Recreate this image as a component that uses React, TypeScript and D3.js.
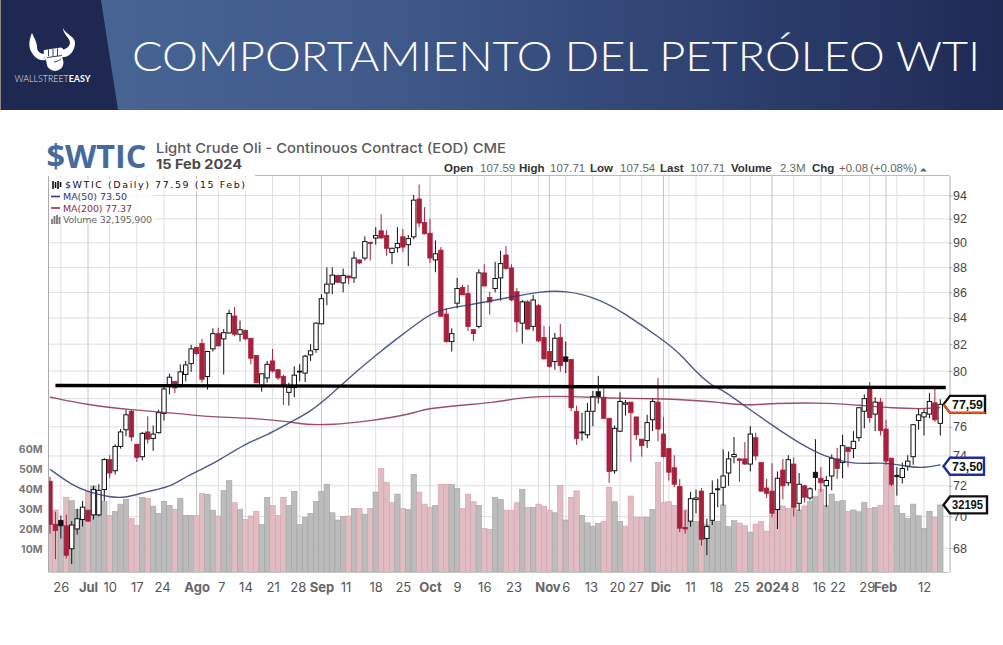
import * as d3 from 'd3';
import * as React from 'react';
import { useEffect, useRef } from 'react';

// daily candles, 16 Jun 2023 - 15 Feb 2024
const opens = [
  72.3, 69.5, 69.75, 69.4, 67.95, 69.2, 69.8, 70.4, 70.1, 70.1,
  71.75, 73.75, 73, 74.65, 75.8, 77.1, 74.8, 73.95, 75.65, 75.2,
  75.6, 76.95, 78.97, 79.25, 79, 79.75, 80.55, 81.75, 82.05, 79.6,
  81.65, 82.8, 82.4, 82.85, 84.15, 82.75, 83.05, 82.45, 81.15, 78.9,
  79.5, 80.75, 80.1, 79.6, 78.45, 78.8, 80, 79.85, 81.2, 81.6,
  83.55, 85.95, 86.66, 87.35, 86.75, 87.3, 87.15, 88.6, 88.75, 90.05,
  90.4, 91, 90.6, 89.2, 89.6, 90.5, 89.85, 90.5, 93.7, 91.7,
  90.8, 88.6, 89.4, 84.3, 82.2, 85.15, 86.4, 85.9, 83.1, 83.35,
  87.55, 85.6, 86.3, 87.15, 89, 87.95, 86.05, 83.6, 85.25, 83.35,
  84.95, 82.5, 81.45, 80.7, 82.5, 81.05, 80.85, 77.1, 75.65, 75.45,
  77.1, 78.5, 78.1, 76.6, 73, 75.7, 77.6, 77.75, 76.7, 75.15,
  75.05, 76.5, 77.75, 75.5, 74.5, 73.2, 71.95, 69.3, 69.7, 71.1,
  71.65, 68.6, 69.75, 71.8, 71.9, 72.85, 73.95, 73.8, 73.8, 73.45,
  75.25, 73.55, 71.85, 71.65, 70.45, 73.05, 72.2, 73.45, 70.85, 72,
  71.2, 72.9, 72.5, 72, 72.65, 73.8, 73.55, 74.6, 74.5, 75.25,
  77.1, 78.85, 76.9, 77.75, 75.85, 73.85, 72.7, 72.55, 73.3, 73.95,
  76.45, 76.7, 76.9, 77.7, 76.25,
];
const highs = [
  72.6, 70.3, 70.05, 70.1, 69.7, 70.5, 71, 70.45, 72, 72.1,
  73.85, 74.05, 74.8, 75.85, 77.2, 77.2, 74.8, 75.65, 76.75, 76.1,
  77.2, 79, 79.8, 79.25, 80.5, 80.75, 81.95, 81.8, 82.4, 81.5,
  83.2, 83.25, 83.15, 84.65, 84.85, 83.8, 83.1, 82.45, 81.15, 79.8,
  80.75, 81.65, 80.15, 79.75, 79.15, 80.35, 80.5, 81.2, 82, 83.65,
  85.85, 88, 88, 87.4, 87.9, 87.35, 89.3, 88.65, 90.55, 90.05,
  91.3, 92.4, 91.05, 89.6, 91.3, 91.15, 90.65, 94.05, 94.95, 93,
  92, 90.2, 89.65, 84.75, 83.2, 87.15, 86.6, 86.6, 83.1, 87.85,
  88.25, 86.05, 88.45, 89.35, 89.75, 88.25, 86.35, 85.4, 85.4, 85.8,
  85.1, 83.4, 83.35, 82.85, 83.55, 82.2, 80.85, 77.5, 77, 77.7,
  78.55, 79.65, 78.75, 76.65, 76.1, 78.45, 77.9, 77.75, 76.7, 75.15,
  76.85, 78, 79.5, 76.7, 74.5, 74.05, 72.45, 70.4, 71.6, 71.75,
  71.85, 69.85, 72.35, 72.45, 74.45, 74.3, 75.3, 73.85, 74.95, 76.05,
  75.6, 73.55, 72.45, 73.5, 72.95, 73.8, 74.05, 73.9, 72.85, 72.05,
  71.9, 75.15, 73.25, 72.65, 74.1, 74.55, 75.45, 74.6, 75.7, 77.4,
  78.3, 79.2, 78.1, 78.05, 76.5, 73.85, 73.25, 73.55, 74.05, 76.2,
  77.3, 77.25, 78.4, 78.8, 77.95,
];
const lows = [
  68.9, 67.3, 68.6, 67.35, 67, 68.85, 69.35, 69.65, 69.8, 70,
  71, 72.5, 72.75, 74.5, 75.35, 75, 73.6, 73.7, 74.85, 74.35,
  75.55, 76.45, 78.3, 78.4, 78.8, 79.25, 79.94, 81.2, 79.15, 78.65,
  81.45, 81.85, 79.75, 82.8, 82.6, 82.2, 82.3, 80.5, 79.1, 78.5,
  79.15, 79.9, 79.35, 77.55, 77.5, 78.1, 79.25, 79.2, 80.75, 81.35,
  83.5, 85, 85.85, 86.75, 86, 86.65, 86.75, 88.25, 88.55, 88.55,
  89.85, 90.35, 88.95, 88.25, 89.2, 89.25, 88.1, 90.3, 91.3, 90.7,
  88.35, 87.6, 84.1, 82.1, 81.45, 84.75, 85.8, 83, 82.25, 83.2,
  86.5, 84.25, 86, 85.35, 87.8, 85.3, 82.9, 82.05, 83.1, 83,
  82.15, 80.85, 80.25, 80.1, 79.95, 79.85, 77.1, 74.75, 75.05, 75.2,
  76.05, 77.65, 76.55, 72.2, 72.8, 75.65, 76.8, 73.6, 75.1, 73.95,
  74.55, 75.7, 75, 73.9, 72.35, 71.9, 69, 68.9, 69.35, 70.2,
  68.15, 67.55, 69.45, 70.6, 70.7, 72, 73.5, 72.25, 73.4, 72.95,
  73.7, 71.6, 71.2, 69.95, 69.2, 71.1, 72, 70, 70.35, 70.9,
  71.05, 71.7, 71.6, 70.6, 71.7, 72.45, 72.5, 73.25, 73.85, 75,
  75.9, 76.3, 75.7, 75.4, 73.4, 71.95, 71.35, 72.15, 73, 73.4,
  75.8, 75.4, 76.6, 76.35, 75.4,
];
const closes = [
  69.5, 69.1, 69.4, 67.55, 69.45, 69.85, 70.6, 69.7, 71.75, 71.7,
  73.75, 72.85, 74.65, 75.65, 76.85, 75.3, 73.9, 75.55, 75.15, 75.5,
  77, 78.7, 79.55, 78.77, 79.94, 80.45, 81.65, 81.3, 79.4, 81.45,
  82.8, 81.87, 82.87, 84.35, 82.75, 83.1, 82.4, 80.95, 79.15, 79.8,
  80.5, 80, 79.5, 79, 78.8, 79.7, 79.95, 81.1, 81.5, 83.6,
  85.5, 86.65, 87.37, 86.8, 87.35, 87.15, 88.75, 88.35, 90.1, 89.95,
  90.6, 90.4, 89.55, 89.55, 89.95, 89.65, 90.35, 93.6, 91.65, 90.75,
  88.75, 89.1, 84.13, 82.2, 82.8, 86.3, 85.8, 83.35, 82.8, 87.55,
  86.5, 85.25, 87.1, 88.3, 87.9, 85.4, 83.7, 85.25, 83.15, 85.4,
  82.25, 80.9, 80.35, 82.45, 80.4, 80.7, 77.35, 75.2, 75.6, 77.1,
  78.15, 78.15, 76.6, 72.95, 75.9, 77.8, 77.7, 77, 75.45, 74.7,
  76.3, 77.8, 75.85, 73.95, 72.9, 72.1, 69.25, 69.2, 71.15, 71.2,
  68.55, 69.35, 71.5, 71.75, 72.65, 73.8, 74.1, 73.7, 73.45, 75.5,
  74, 71.65, 71.5, 70.2, 72.5, 72, 73.75, 70.6, 72.1, 71.25,
  71.8, 72.55, 72.2, 72.35, 73.85, 73.15, 74.7, 74.3, 75, 77.35,
  78, 76.65, 77.75, 75.75, 73.65, 72.1, 72.6, 73.15, 73.65, 76.15,
  76.85, 77, 77.8, 76.5, 77.59,
];
// filled candles drawn black (close under open but above yesterday's close)
const blackDays = [2, 46, 95, 98, 101, 123, 141, 156];

// volume in millions
const volumes = [
  25, 29.7, 23, 36, 34.3, 30, 26.5, 39, 41.6, 39,
  34, 27, 29, 32.6, 35, 25.5, 22, 36, 35.5, 31.6,
  28, 34, 32, 30, 35.5, 27, 27, 27, 38, 37.5,
  29.6, 26.7, 39.3, 44.3, 33.3, 30, 25, 26.7, 29, 22.5,
  36, 32, 27, 36, 32, 39, 22.5, 26, 28, 34,
  39, 42.5, 28.3, 24.7, 26.3, 26.7, 30.5, 30.5, 27.6, 30.5,
  38.6, 50.3, 43.5, 33.3, 37.6, 30.5, 30, 47.4, 38.6, 32.6,
  31, 32, 42.5, 42.5, 42.4, 40.4, 30.5, 37.6, 33.8, 32,
  20.5, 20, 36, 35, 29.6, 29.6, 33.3, 40, 31, 31,
  32.6, 31.6, 29.6, 28.3, 42, 24.7, 36, 39.2, 27, 23.3,
  21.7, 23, 24, 41, 33.8, 24, 21.7, 36.6, 26, 26,
  26, 30, 53.3, 33.4, 33.9, 32, 41, 29.7, 23.9, 24,
  23, 22.3, 24, 24, 32.2, 21.4, 24.4, 23.2, 21.9, 18.7,
  22.7, 23.9, 19.2, 27.2, 30.5, 31.7, 30.5, 32.2, 29.7, 31.7,
  34.1, 36.3, 40, 32, 37.6, 33.8, 34.3, 29, 29.7, 28.8,
  33.3, 30.5, 31, 32.1, 53, 42, 32, 28, 25.5, 32.6,
  26.8, 20.5, 29, 26, 32.2,
];
// days whose volume bar is pink
const volumeDown = [
  0, 1, 3, 7, 11, 15, 16, 18, 23, 27, 28, 31, 34, 36, 37, 38, 41, 42, 43,
  55, 57, 59, 61, 62, 63, 65, 68, 69, 70, 72, 73, 76, 77, 78, 80, 81, 84, 85, 86, 88,
  90, 91, 92, 94, 96, 97, 102, 103, 106, 107, 108, 109, 112, 113, 114, 115, 116, 117,
  120, 127, 128, 130, 131, 132, 133, 134, 135, 136, 137, 139, 142, 147, 151, 153, 154, 155, 163,
];

const ma50Days = [0, 4, 7, 11, 14, 18, 22, 25, 29, 31, 36, 40, 44, 48, 52, 55, 60, 64, 68, 71, 77, 85, 90, 95, 101, 106, 113, 116, 119, 122, 124, 127, 133, 138, 143, 147, 150, 154, 158, 161, 164];
const ma50Values = [73.1, 72.05, 71.6, 71.24, 71.2, 71.65, 71.9, 72.6, 73.3, 73.67, 74.85, 75.42, 76.28, 77.06, 78.37, 79.48, 81.17, 82.45, 83.69, 84.6, 84.98, 85.63, 86.05, 86.16, 85.53, 84.33, 82.3, 81.32, 79.92, 78.9, 78.6, 77.75, 76.12, 74.87, 73.9, 73.53, 73.47, 73.56, 73.27, 73.18, 73.4];
const ma200Days = [0, 7, 15, 23, 29, 36, 44, 47, 52, 58, 63, 68, 69, 76, 82, 86, 90, 96, 103, 112, 118, 123, 128, 133, 144, 150, 155, 161, 164];
const ma200Values = [78.12, 77.54, 77.19, 76.98, 76.7, 76.65, 76.38, 76.15, 76.15, 76.38, 76.65, 77.07, 77.26, 77.54, 77.73, 78.03, 78.17, 78.17, 78.03, 78, 77.89, 77.75, 77.49, 77.68, 77.7, 77.49, 77.33, 77.26, 77.37];

const resistanceDays = [1, 165];
const resistanceValues = [78.95, 78.8];

const priceTicks = [68, 70, 72, 74, 76, 78, 80, 82, 84, 86, 88, 90, 92, 94];
const volumeTicks = [10, 20, 30, 40, 50, 60];
const dateTicks = [2, 7, 11, 16, 21, 27, 31, 36, 41, 46, 50, 55, 60, 65, 70, 75, 80, 85, 90, 92, 95, 100, 105, 109, 113, 114, 119, 124, 129, 133, 137, 142, 146, 151, 154, 156, 161];
const dateLabels = ['26', 'Jul', '10', '17', '24', 'Ago', '7', '14', '21', '28', 'Sep', '11', '18', '25', 'Oct', '9', '16', '23', '', 'Nov', '6', '13', '20', '27', 'Dic', '', '11', '18', '25', '2024', '8', '16', '22', '29', 'Feb', '', '12'];
const monthLabels = ['Jul', 'Ago', 'Sep', 'Oct', 'Nov', 'Dic', '2024', 'Feb'];

const headerText = [
  ['Open', '107.59', 444, 480], ['High', '107.71', 519, 550], ['Low', '107.54', 590, 620],
  ['Last', '107.71', 660, 690], ['Volume', '2.3M', 731, 780], ['Chg', '+0.08', 812, 839],
];

const RED = '#a8203c';
const NAVY = '#1f2850';
const SANS = "'Liberation Sans', Arial, sans-serif";
const WIDE = "Inter, 'Noto Sans', sans-serif";

export default function App() {
  const mountPoint = useRef<SVGSVGElement | null>(null);

  useEffect(() => {
    const svg = d3.select(mountPoint.current);
    svg.selectAll('*').remove();

    const left = 48.5, right = 949.5, top = 176, bottom = 572;
    const x = d3.scaleLinear().domain([0, opens.length - 1]).range([50, 940.3]);
    const y = d3.scaleLog().domain([68, 94]).range([548, 195.5]);
    const vy = d3.scaleLinear().domain([0, 60]).range([569.7, 449]);
    const step = x(1) - x(0);

    // banner
    const defs = svg.append('defs');
    const grad = defs.append('linearGradient').attr('id', 'banner');
    grad.append('stop').attr('offset', '0%').attr('stop-color', '#4a6796');
    grad.append('stop').attr('offset', '35%').attr('stop-color', '#415c8c');
    grad.append('stop').attr('offset', '70%').attr('stop-color', '#2f4272');
    grad.append('stop').attr('offset', '100%').attr('stop-color', '#1f2a55');
    defs.append('clipPath').attr('id', 'plot').append('rect')
      .attr('x', left).attr('y', top).attr('width', right - left).attr('height', bottom - top);

    svg.append('rect').attr('width', 1003).attr('height', 110).attr('fill', 'url(#banner)');
    svg.append('path').attr('d', 'M0,0H101L118,110H0Z').attr('fill', NAVY);
    svg.append('rect').attr('width', 1).attr('height', 110).attr('fill', '#8a8a8a');

    const logo = svg.append('g').attr('fill', '#fff');
    logo.append('path').attr('d', 'M32,33C29,40 28,47 32,53C35,58 40,61 45,60L44,54C40,54 37,51 37,47C37,42 34,38 32,33Z');
    logo.append('path').attr('d', 'M63,28C63,34 69,37 70,42C70,47 66,49 62,50L62,57C70,58 75,50 75,43C75,36 65,34 63,28Z');
    logo.append('path').attr('d', 'M44,50L61,47.5C63,48 64,50 63.5,53L62,60L47,62C45,60 43,55 44,50Z');
    logo.append('circle').attr('cx', 55).attr('cy', 62.5).attr('r', 8.5);
    logo.append('g').attr('stroke', NAVY).attr('stroke-width', 0.9).attr('fill', 'none')
      .selectAll('path').data(['M48.5,49.5V56', 'M53,49V56', 'M57.5,48.5V56', 'M47,57.5L62,55.5', 'M54,62C57,61.5 60,60.5 61,58.5'])
      .enter().append('path').attr('d', d => d);
    const brand = svg.append('text').attr('x', 14.5).attr('y', 81.5).attr('fill', '#e6e8ee')
      .attr('font-family', "Lato, 'Open Sans', sans-serif").attr('font-size', 10)
      .attr('textLength', 76).attr('lengthAdjust', 'spacingAndGlyphs');
    brand.append('tspan').text('WALLSTREET').attr('font-weight', 300);
    brand.append('tspan').text('EASY').attr('font-weight', 700).attr('fill', '#fff');

    svg.append('text').text('COMPORTAMIENTO DEL PETRÓLEO WTI')
      .attr('x', 132).attr('y', 71).attr('fill', '#fff')
      .attr('font-family', 'Lato, sans-serif').attr('font-weight', 300).attr('font-size', 41)
      .attr('textLength', 848).attr('lengthAdjust', 'spacingAndGlyphs');

    // chart heading
    svg.append('text').text('$WTIC').attr('x', 46.5).attr('y', 168).attr('fill', '#466a9b')
      .attr('font-family', "'Open Sans', sans-serif").attr('font-weight', 700).attr('font-size', 32)
      .attr('textLength', 100).attr('lengthAdjust', 'spacingAndGlyphs');
    svg.append('text').text('Light Crude Oli - Continouos Contract (EOD) CME').attr('x', 156).attr('y', 153)
      .attr('fill', '#5a5a5a').attr('font-family', WIDE).attr('font-weight', 500).attr('font-size', 13.5)
      .attr('textLength', 350).attr('lengthAdjust', 'spacingAndGlyphs');
    svg.append('text').text('15 Feb 2024').attr('x', 156).attr('y', 169)
      .attr('fill', '#4a4a4a').attr('font-family', WIDE).attr('font-weight', 700).attr('font-size', 13)
      .attr('textLength', 86).attr('lengthAdjust', 'spacingAndGlyphs');

    const quote = svg.append('g').attr('font-family', SANS).attr('font-size', 11.5);
    headerText.forEach(([name, value, nameX, valueX]) => {
      quote.append('text').text(name).attr('x', nameX).attr('y', 172).attr('font-weight', 700).attr('fill', '#333');
      quote.append('text').text(value).attr('x', valueX).attr('y', 172).attr('fill', '#666');
    });
    quote.append('text').text('(+0.08%)').attr('x', 870).attr('y', 172).attr('fill', '#666');
    quote.append('path').attr('d', 'M920,171.5L923.5,168L927,171.5Z').attr('fill', '#666');

    // grid
    const grid = svg.append('g');
    grid.selectAll('line.h').data(priceTicks).enter().append('line')
      .attr('x1', left).attr('x2', right).attr('y1', d => y(d)).attr('y2', d => y(d))
      .attr('stroke', '#dedede').attr('stroke-width', 1);
    grid.selectAll('line.v').data(dateTicks).enter().append('line')
      .attr('x1', d => x(d)).attr('x2', d => x(d)).attr('y1', top).attr('y2', bottom)
      .attr('stroke', (d, i) => monthLabels.includes(dateLabels[i]) ? '#c4c4c4' : '#dedede')
      .attr('stroke-width', 1);

    const plot = svg.append('g').attr('clip-path', 'url(#plot)');

    // volume
    plot.selectAll('rect.vol').data(volumes).enter().append('rect')
      .attr('x', (d, i) => x(i) - step / 2).attr('width', step)
      .attr('y', d => vy(d)).attr('height', d => bottom - vy(d))
      .attr('fill', (d, i) => volumeDown.includes(i) ? '#e2bcc3' : '#bcbcbc')
      .attr('stroke', (d, i) => volumeDown.includes(i) ? '#cfa3ad' : '#a3a3a3')
      .attr('stroke-width', 0.6);

    // candles
    const candleColor = (i: number) => closes[i] > opens[i] ? '#111' : blackDays.includes(i) ? '#111' : RED;
    plot.selectAll('line.wick').data(opens).enter().append('line')
      .attr('x1', (d, i) => x(i)).attr('x2', (d, i) => x(i))
      .attr('y1', (d, i) => y(highs[i])).attr('y2', (d, i) => y(lows[i]))
      .attr('stroke', (d, i) => candleColor(i)).attr('stroke-width', 1);
    plot.selectAll('rect.body').data(opens).enter().append('rect')
      .attr('x', (d, i) => x(i) - 2.2).attr('width', 4.4)
      .attr('y', (d, i) => y(Math.max(opens[i], closes[i])))
      .attr('height', (d, i) => Math.max(1, Math.abs(y(opens[i]) - y(closes[i]))))
      .attr('fill', (d, i) => closes[i] > opens[i] ? '#fff' : candleColor(i))
      .attr('stroke', (d, i) => closes[i] > opens[i] ? '#111' : candleColor(i))
      .attr('stroke-width', (d, i) => closes[i] > opens[i] ? 1 : 0.8);

    // moving averages
    const line = d3.line<number>().x(d => x(d[0])).y(d => y(d[1])).curve(d3.curveBasis);
    plot.append('path').attr('d', line(ma200Days.map((d, i) => [d, ma200Values[i]]) as any))
      .attr('fill', 'none').attr('stroke', '#8c2f4c').attr('stroke-width', 1.4).attr('stroke-opacity', 0.85);
    plot.append('path').attr('d', line(ma50Days.map((d, i) => [d, ma50Values[i]]) as any))
      .attr('fill', 'none').attr('stroke', '#2f3b78').attr('stroke-width', 1.4).attr('stroke-opacity', 0.85);

    // resistance line
    svg.append('path').attr('d', d3.line<number>().x(d => x(d[0])).y(d => y(d[1]))(resistanceDays.map((d, i) => [d, resistanceValues[i]]) as any))
      .attr('stroke', '#000').attr('stroke-width', 3.4).attr('fill', 'none');

    // axes
    const priceAxis = d3.axisRight(y).tickValues(priceTicks)
      .tickFormat((d: any) => d === 78 ? '' : String(d)).tickSize(3);
    const pg = svg.append('g').attr('transform', `translate(${right},0)`).call(priceAxis as any);
    pg.select('.domain').attr('stroke', '#aaa').attr('d', `M0.5,${top}V${bottom}`);
    pg.selectAll('line').attr('stroke', '#aaa');
    pg.selectAll('text').attr('font-family', SANS).attr('font-size', 12.5).attr('fill', '#444').attr('x', 3.5);

    const volAxis = d3.axisLeft(vy).tickValues(volumeTicks).tickFormat(d => `${d}M`).tickSize(0);
    const vg = svg.append('g').attr('transform', `translate(${left - 6},0)`).call(volAxis as any);
    vg.select('.domain').remove();
    vg.selectAll('text').attr('font-family', WIDE).attr('font-weight', 700).attr('font-size', 10.5).attr('fill', '#777').attr('x', 0);

    const labelShift: Record<number, number> = { 21: -2, 31: 3, 46: -2, 55: -3, 85: 2, 92: -2, 100: -2, 105: -3, 109: -6, 113: -3, 119: -6, 124: -7, 129: -9, 137: 1, 142: -2, 146: -5, 151: -3, 154: -1 };
    const dateAxis = d3.axisBottom(x).tickValues(dateTicks).tickSize(0).tickFormat((d, i) => dateLabels[i]);
    const dg = svg.append('g').attr('transform', `translate(0,${bottom})`).call(dateAxis as any);
    dg.select('.domain').attr('stroke', '#c8c8c8').attr('d', `M${left},0.5H${right}`);
    dg.selectAll('text')
      .attr('y', 11).attr('dx', (d: any) => labelShift[d] || 0)
      .attr('font-family', WIDE).attr('font-size', 13)
      .attr('font-weight', (d, i) => monthLabels.includes(dateLabels[i]) ? 700 : 400)
      .attr('fill', (d, i) => monthLabels.includes(dateLabels[i]) ? '#666' : '#555');

    // frame
    svg.append('line').attr('x1', left).attr('x2', left).attr('y1', top).attr('y2', bottom).attr('stroke', '#aaa').attr('stroke-width', 1);
    svg.append('line').attr('x1', 255).attr('x2', right).attr('y1', top - 0.5).attr('y2', top - 0.5).attr('stroke', '#bbb').attr('stroke-width', 1);

    // legend
    const legend = svg.append('g').attr('font-family', "'DejaVu Sans', Verdana, sans-serif").attr('font-size', 9.5);
    legend.append('rect').attr('x', 49.5).attr('y', 179).attr('width', 200).attr('height', 12).attr('fill', '#fff').attr('fill-opacity', 0.8);
    legend.append('rect').attr('x', 49.5).attr('y', 191).attr('width', 105).attr('height', 33).attr('fill', '#fff').attr('fill-opacity', 0.8);
    legend.append('path').attr('d', 'M53,181V189M55.5,182V188M58,181V189M60.5,182V187').attr('stroke', '#111').attr('stroke-width', 1.6);
    legend.append('text').text('$WTIC (Daily) 77.59 (15 Feb)').attr('x', 65).attr('y', 188).attr('fill', '#111').attr('textLength', 180);
    legend.append('line').attr('x1', 51).attr('x2', 60).attr('y1', 196.5).attr('y2', 196.5).attr('stroke', '#2b3a78').attr('stroke-width', 1.6);
    legend.append('text').text('MA(50) 73.50').attr('x', 63).attr('y', 200).attr('fill', '#2b3a78').attr('textLength', 64);
    legend.append('line').attr('x1', 51).attr('x2', 60).attr('y1', 208).attr('y2', 208).attr('stroke', '#8c2f4c').attr('stroke-width', 1.6);
    legend.append('text').text('MA(200) 77.37').attr('x', 63).attr('y', 212).attr('fill', '#8c2f4c').attr('textLength', 69);
    legend.append('path').attr('d', 'M52,224V219M54.5,224V216M57,224V215M59.5,224V217').attr('stroke', '#777').attr('stroke-width', 1.8);
    legend.append('text').text('Volume 32,195,900').attr('x', 63).attr('y', 223).attr('fill', '#666').attr('textLength', 89);

    // last value tags
    const tag = (cy: number, label: string, color: string, width: number, boxRight: number) => {
      const g = svg.append('g');
      g.append('path').attr('d', `M943.5,${cy}L${950},${cy - 8.5}H${boxRight}V${cy + 8.5}H${950}Z`)
        .attr('fill', '#fff').attr('stroke', color).attr('stroke-width', 2.4);
      g.append('text').text(label).attr('x', 952).attr('y', cy + 4.5)
        .attr('font-family', SANS).attr('font-weight', 700).attr('font-size', 13.5).attr('fill', '#111')
        .attr('textLength', width).attr('lengthAdjust', 'spacingAndGlyphs');
      return g;
    };
    const lastClose = closes[closes.length - 1];
    tag(y(lastClose), '77,59', '#111', 31, 985);
    svg.append('path').attr('d', `M943.5,${y(lastClose)}L950,${y(lastClose) + 8.5}H985`)
      .attr('fill', 'none').attr('stroke', '#ea5a20').attr('stroke-width', 2);
    tag(y(ma50Values[ma50Values.length - 1]) + 1.5, '73,50', '#1e2e9c', 31, 984);
    tag(vy(volumes[volumes.length - 1]), '32195', '#111', 31, 987);
  }, []);

  return (
    <svg
      ref={mountPoint}
      width={1003}
      height={645}
      style={{ position: 'absolute', left: 0, top: 0, background: '#fff' }}
    />
  );
}
